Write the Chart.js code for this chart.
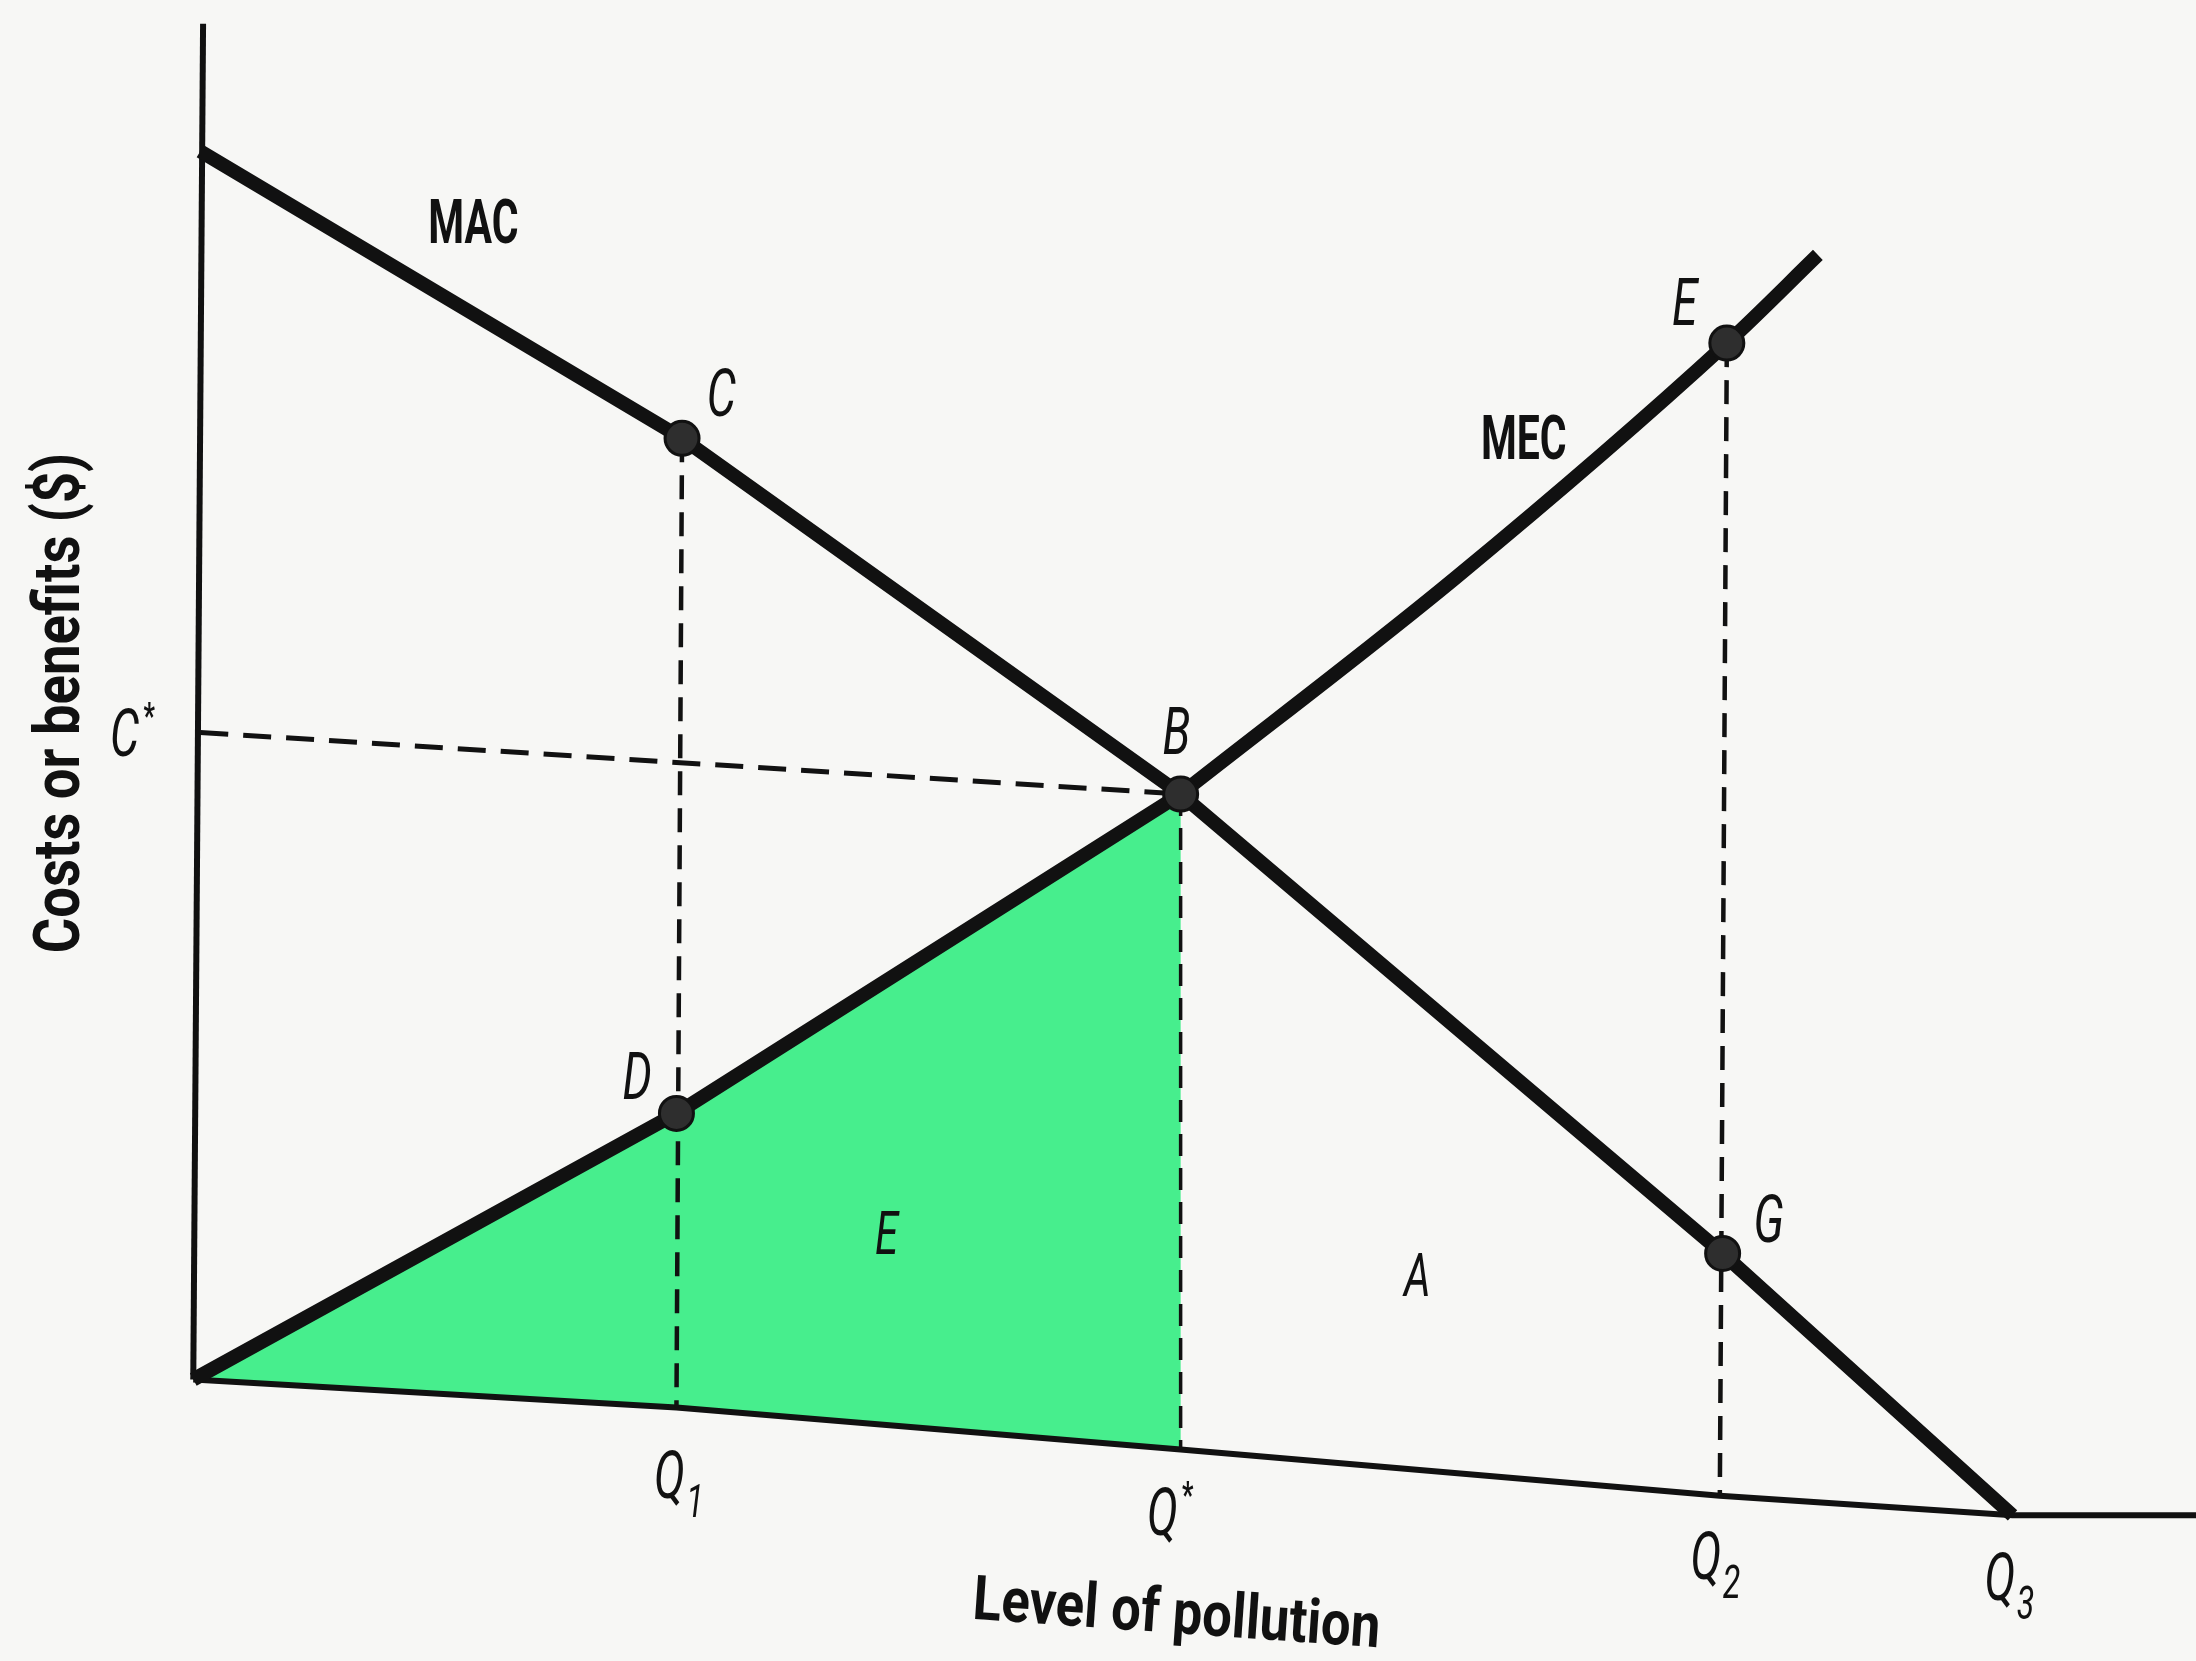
<!DOCTYPE html>
<html>
<head>
<meta charset="utf-8">
<title>MAC / MEC</title>
<script src="https://cdn.jsdelivr.net/npm/chart.js@4.4.1/dist/chart.umd.min.js"></script>
<style>
  html, body { margin: 0; padding: 0; background: #f7f7f5; }
  #wrap { width: 2196px; height: 1661px; }
</style>
</head>
<body>
<div id="wrap"><canvas id="pollutionChart" width="2196" height="1661"></canvas></div>
<script>
// values (x = level of pollution, y = costs or benefits)
const yAxisLine = [{ x: 0.7, y: 96.8 }, { x: 0, y: 0 }];
const xAxisLine = [{ x: 0, y: 0 }, { x: 34.5, y: -2.0 }, { x: 70.5, y: -5.0 }, { x: 109.0, y: -8.3 }, { x: 129.9, y: -9.7 }, { x: 143, y: -9.7 }];
const macCurve = [{ x: 0.5, y: 87.7 }, { x: 34.9, y: 67.2 }, { x: 70.5, y: 41.8 }, { x: 109.2, y: 9.0 }, { x: 129.9, y: -9.7 }];
const mecLower = [{ x: 0, y: 0 }, { x: 34.5, y: 19.0 }, { x: 70.5, y: 41.8 }];
const mecUpper = [{ x: 70.5, y: 41.8 }, { x: 90.2, y: 57.3 }, { x: 109.5, y: 74.0 }, { x: 116.0, y: 80.3 }];
const areaE = [{ x: 0, y: 0 }, { x: 34.5, y: 19.0 }, { x: 70.5, y: 41.8 }, { x: 70.5, y: -5.0 }, { x: 34.5, y: -2.0 }, { x: 0, y: 0 }];
const cStarLine = [{ x: 0.5, y: 46.2 }, { x: 70.5, y: 41.8 }];
const q1Line = [{ x: 34.9, y: 67.2 }, { x: 34.5, y: -2.0 }];
const qStarLine = [{ x: 70.5, y: 41.8 }, { x: 70.5, y: -5.0 }];
const q2Line = [{ x: 109.5, y: 74.0 }, { x: 109.0, y: -8.3 }];
const markedPoints = [{ x: 34.9, y: 67.2 }, { x: 70.5, y: 41.8 }, { x: 34.5, y: 19.0 }, { x: 109.5, y: 74.0 }, { x: 109.2, y: 9.0 }];

// text: [main, sub, sup, x, y, kind]
const figureLabels = [
  ["MAC", "", "", 20.0, 82.7, "name"],
  ["MEC", "", "", 95.0, 67.3, "name"],
  ["C", "", "", 37.7, 70.5, "point"],
  ["E", "", "", 106.5, 77.0, "point"],
  ["B", "", "", 70.2, 46.3, "point"],
  ["D", "", "", 31.7, 21.7, "point"],
  ["G", "", "", 112.5, 11.5, "point"],
  ["E", "", "", 49.5, 10.5, "area"],
  ["A", "", "", 87.4, 7.5, "area"],
  ["C", "", "*", -4.9, 46.2, "point"],
  ["Q", "1", "", 34.0, -6.8, "point"],
  ["Q", "", "*", 69.2, -9.4, "point"],
  ["Q", "2", "", 108.0, -12.6, "point"],
  ["Q", "3", "", 129.0, -14.1, "point"]
];
const xTitle = "Level of pollution";
const yTitle = "Costs or benefits ($)";

const ink = "#111111";
const green = "#47ee8d";

function fontFor(kind, size) {
  if (kind === "name" || kind === "title") return "bold " + size + "px Roboto, 'DejaVu Sans', sans-serif";
  return "italic 400 " + size + "px Roboto, 'DejaVu Sans', sans-serif";
}

const labelPlugin = {
  id: "figureLabels",
  beforeDraw(chart) {
    const ctx = chart.ctx;
    ctx.save();
    ctx.fillStyle = "#f7f7f5";
    ctx.fillRect(0, 0, chart.width, chart.height);
    ctx.restore();
  },
  afterDatasetsDraw(chart) {
    const ctx = chart.ctx;
    const xs = chart.scales.x, ys = chart.scales.y;
    ctx.save();
    ctx.fillStyle = ink;
    ctx.textAlign = "left";
    ctx.textBaseline = "alphabetic";

    figureLabels.forEach(([main, sub, sup, x, y, kind]) => {
      const size = kind === "name" ? 62 : (kind === "area" ? 60 : 66);
      const squeeze = kind === "name" ? 0.66 : 0.7;
      const px = xs.getPixelForValue(x), py = ys.getPixelForValue(y);
      ctx.save();
      ctx.translate(px, py);
      ctx.scale(squeeze, 1);
      ctx.font = fontFor(kind, size);
      const w = ctx.measureText(main).width;
      const left = -w / 2;
      const base = size * 0.355;
      ctx.fillText(main, left, base);
      if (sub) {
        ctx.font = fontFor(kind, Math.round(size * 0.7));
        ctx.fillText(sub, left + w + 2, base + size * 0.28);
      }
      if (sup) {
        ctx.font = "bold " + Math.round(size * 0.55) + "px Roboto, sans-serif";
        ctx.fillText(sup, left + w + 6, base - size * 0.42);
      }
      ctx.restore();
    });

    // axis titles
    const tx = xs.getPixelForValue(70.2), ty = ys.getPixelForValue(-17.0);
    ctx.save();
    ctx.translate(tx, ty);
    ctx.rotate(4 * Math.PI / 180);
    ctx.scale(0.85, 1);
    ctx.font = fontFor("title", 62);
    ctx.textAlign = "center";
    ctx.textBaseline = "middle";
    ctx.fillText(xTitle, 0, 0);
    ctx.restore();

    const vx = xs.getPixelForValue(-9.3), vy = ys.getPixelForValue(48.3);
    ctx.save();
    ctx.translate(vx, vy);
    ctx.rotate(-Math.PI / 2);
    ctx.scale(0.85, 1);
    ctx.font = fontFor("title", 64);
    ctx.textAlign = "center";
    ctx.textBaseline = "middle";
    ctx.fillText(yTitle, 0, 0);
    ctx.restore();

    ctx.restore();
  }
};

function lineSet(label, data, width, dash) {
  return {
    label: label,
    data: data,
    borderColor: ink,
    borderWidth: width,
    borderDash: dash || [],
    borderCapStyle: "butt",
    borderJoinStyle: "round",
    pointRadius: 0,
    fill: false,
    tension: 0
  };
}

const mecTop = lineSet("MEC upper", mecUpper, 14);
mecTop.cubicInterpolationMode = "monotone";

const ctx = document.getElementById("pollutionChart");
const pollutionChart = new Chart(ctx, {
  type: "line",
  data: {
    datasets: [
      {
        label: "Points",
        data: markedPoints,
        showLine: false,
        pointRadius: 17,
        pointBackgroundColor: "#2e2e2e",
        pointBorderColor: ink,
        pointBorderWidth: 3
      },
      lineSet("MAC", macCurve, 14),
      lineSet("MEC", mecLower, 14),
      mecTop,
      lineSet("C*", cStarLine, 5, [28, 15]),
      lineSet("Q1", q1Line, 4.5, [24, 13]),
      lineSet("Q*", qStarLine, 3.5, [22, 12]),
      lineSet("Q2", q2Line, 4.5, [24, 13]),
      lineSet("x axis", xAxisLine, 6),
      lineSet("y axis", yAxisLine, 6),
      {
        label: "E area",
        data: areaE,
        borderWidth: 0,
        pointRadius: 0,
        backgroundColor: green,
        fill: "shape",
        tension: 0
      }
    ]
  },
  options: {
    responsive: false,
    animation: false,
    devicePixelRatio: 1,
    layout: { padding: 0, autoPadding: false },
    scales: {
      x: { type: "linear", min: -13.8, max: 143, display: false },
      y: { type: "linear", min: -20.1, max: 98.5, display: false }
    },
    plugins: {
      legend: { display: false },
      tooltip: { enabled: false }
    }
  },
  plugins: [labelPlugin]
});
</script>
</body>
</html>
